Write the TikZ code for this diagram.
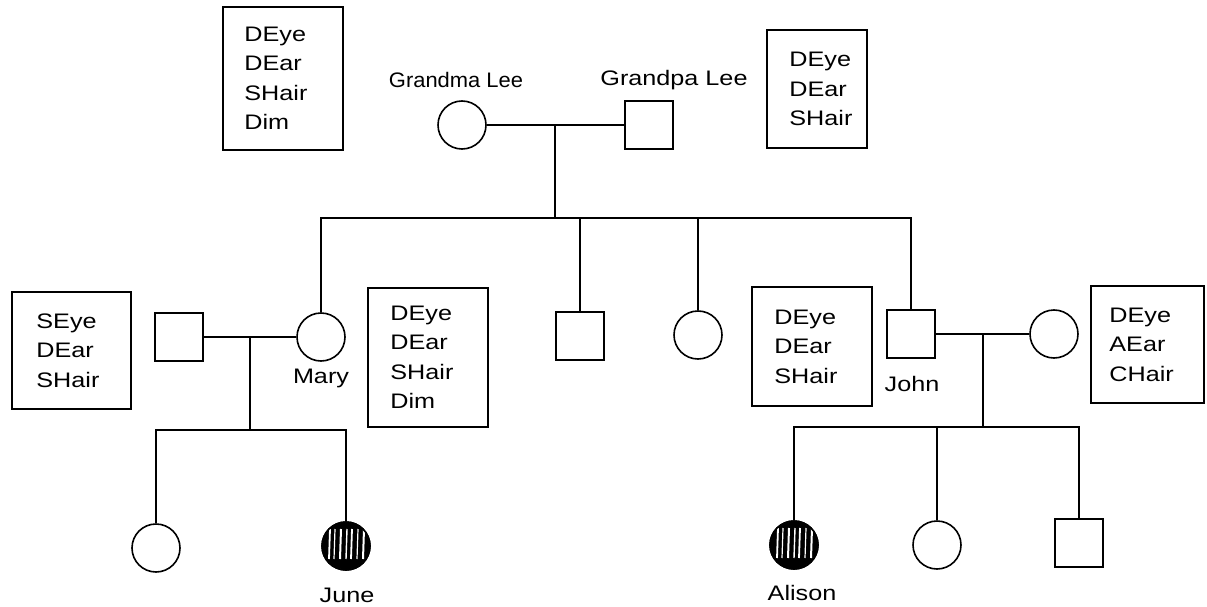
\documentclass[tikz,border=0pt]{standalone}
\usepackage{fontspec}
\setmainfont{Liberation Sans}[FakeStretch=1.2]
\begin{document}
\begin{tikzpicture}[x=1pt,y=-1pt,
  every node/.style={font=\fontsize{21}{29.5}\selectfont},
  ln/.style={line width=1.6pt},
  fem/.style={draw, circle, line width=1.6pt, minimum size=48pt, inner sep=0pt},
  mal/.style={draw, rectangle, line width=1.6pt, minimum size=48pt, inner sep=0pt},
  infobox/.style={draw, rectangle, line width=1.6pt, inner sep=0pt},
  boxtext/.style={anchor=west, align=left, inner sep=0pt},
  lbl/.style={inner sep=0pt}]
\useasboundingbox (0,0) rectangle (1207,607);

% generation 1
\node[fem] (gma) at (462,125) {};
\node[mal] (gpa) at (649,125) {};
\node[lbl] (gmal) at (456,80) {\scalebox{0.87}[1]{Grandma Lee}};
\node[lbl] (gpal) at (674,80) {Grandpa Lee};
\coordinate (m1) at (555,125);
\coordinate (s1) at (555,218);
\draw[ln] (gma.east) -- (gpa.west);
\draw[ln] (m1) -- (s1);

% info boxes
\node[infobox, minimum width=120pt, minimum height=143pt] (b1) at (283,78.5) {};
\node[boxtext] (t1) at ([xshift=22pt]b1.west) {DEye\\DEar\\SHair\\Dim};
\node[infobox, minimum width=100pt, minimum height=118pt] (b2) at (817,89) {};
\node[boxtext] (t2) at ([xshift=23pt]b2.west) {DEye\\DEar\\SHair};
\node[infobox, minimum width=119pt, minimum height=117pt] (b3) at (71.5,350.5) {};
\node[boxtext] (t3) at ([xshift=25pt]b3.west) {SEye\\DEar\\SHair};
\node[infobox, minimum width=120pt, minimum height=139pt] (b4) at (428,357.5) {};
\node[boxtext] (t4) at ([xshift=23pt]b4.west) {DEye\\DEar\\SHair\\Dim};
\node[infobox, minimum width=120pt, minimum height=119pt] (b5) at (812,346.5) {};
\node[boxtext] (t5) at ([xshift=23pt]b5.west) {DEye\\DEar\\SHair};
\node[infobox, minimum width=113pt, minimum height=117pt] (b6) at (1147.5,344.5) {};
\node[boxtext] (t6) at ([xshift=19pt]b6.west) {DEye\\AEar\\CHair};

% generation 2
\node[fem] (mary) at (321,337) {};
\node[mal] (c2) at (580,336) {};
\node[fem] (c3) at (698,335) {};
\node[mal] (john) at (911,334) {};
\node[lbl] (maryl) at (321,378) {Mary};
\node[lbl] (johnl) at (912,384) {John};
\draw[ln] (mary.north) |- (s1) -| (john.north);
\draw[ln] (c2.north) -- (c2.north |- s1);
\draw[ln] (c3.north) -- (c3.north |- s1);

% spouses
\node[mal] (mh) at (179,337) {};
\node[fem] (jw) at (1054,334) {};
\draw[ln] (mh.east) -- (mary.west);
\draw[ln] (john.east) -- (jw.west);
\coordinate (m2) at (250,337);
\coordinate (s2) at (250,430);
\coordinate (m3) at (983,334);
\coordinate (s3) at (983,427);
\draw[ln] (m2) -- (s2);
\draw[ln] (m3) -- (s3);

% generation 3
\node[fem] (g1) at (156,548) {};
\node[fem] (june) at (346,546) {};
\node[lbl] (junel) at (347,595) {June};
\node[fem] (alison) at (794,545) {};
\node[lbl] (alisonl) at (802,593) {Alison};
\node[fem] (g4) at (937,545) {};
\node[mal] (g5) at (1079,543) {};
\draw[ln] (g1.north) |- (s2) -| (june.north);
\draw[ln] (alison.north) |- (s3) -| (g5.north);
\draw[ln] (g4.north) -- (g4.north |- s3);

% shading of affected
\foreach \p in {june,alison}{
  \begin{scope}
    \clip (\p.center) circle (23.5pt);
    \fill (\p.center) circle (24pt);
    \foreach \dx/\w in {-17/1.8,-12/1.2,-6/2,0/1.4,5/1.8,11/1.2,17/2}
      \draw[white, line width=\w pt] ([xshift=\dx pt, yshift=-13pt]\p.center) -- ([xshift=\dx pt+1pt, yshift=17pt]\p.center);
  \end{scope}
  \draw[ln] (\p.center) circle (24pt);
}
\end{tikzpicture}
\end{document}
